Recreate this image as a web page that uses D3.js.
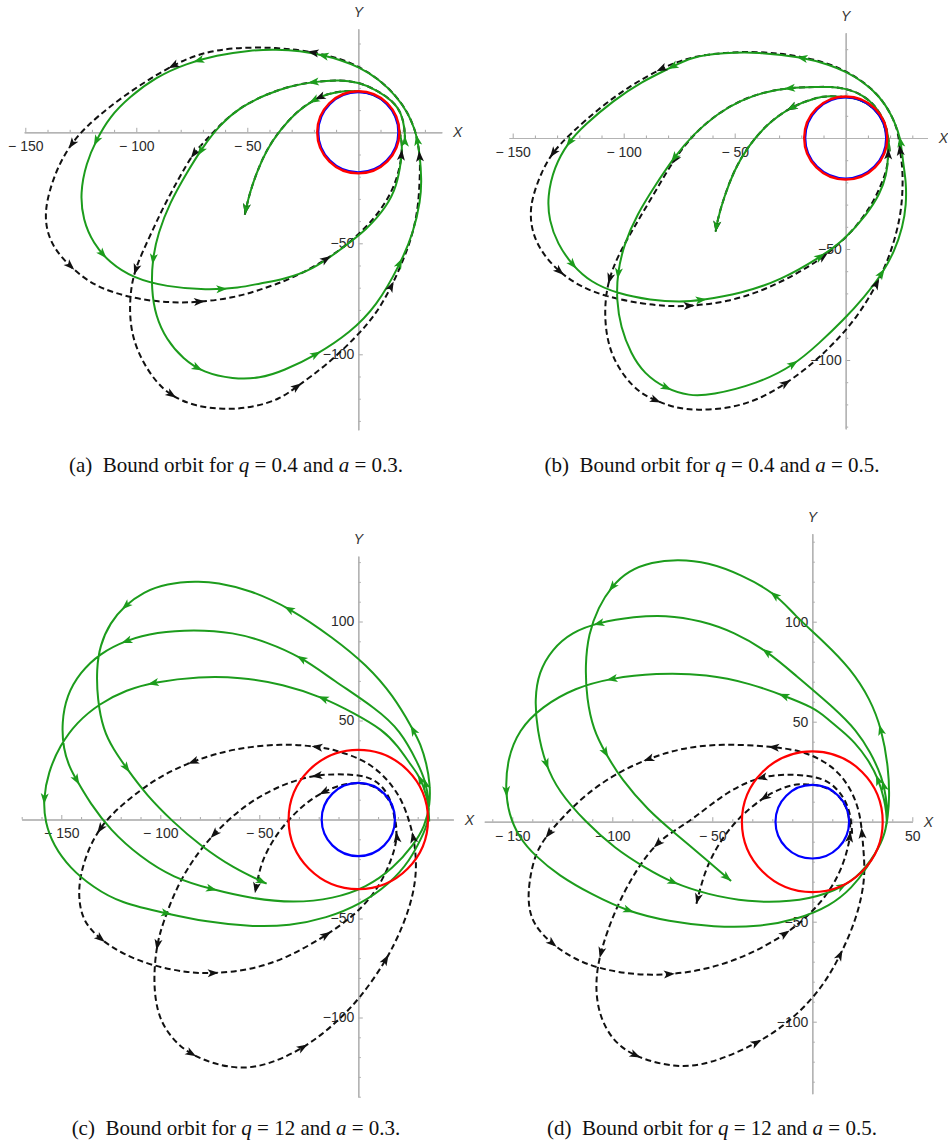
<!DOCTYPE html>
<html><head><meta charset="utf-8">
<script src="https://cdn.jsdelivr.net/npm/d3@7"></script>
<style>
body{margin:0;background:#fff;}
svg{display:block;}
</style></head><body>
<svg id="chart" width="948" height="1147"></svg>
<script>
// ---------------- DATA ----------------
// Panel (a) q = 0.4, a = 0.3
const greenA = [[21,-4],[21,1.1],[19.5,8.6],[15.8,13.9],[8.3,19.1],[0,22.6],[-8.2,23.6],[-20.3,22.8],[-30.8,20.8],[-41.4,17.2],[-53.4,11.2],[-62.4,3.3],[-69.9,-6.4],[-77.4,-18.4],[-85,-31.9],[-90.2,-45.4],[-92.8,-57.3],[-93.2,-70.8],[-91.3,-82.8],[-86.5,-93.3],[-78.9,-102.2],[-69.9,-108.2],[-56.4,-111.2],[-44.4,-110.9],[-33.8,-107.5],[-18.7,-100.2],[-3.8,-90.3],[8.3,-78.3],[18.8,-59.5],[24.8,-45.4],[28.1,-30.4],[28.5,-21.4],[27.8,-10.9],[26.6,-3.4],[25.5,1.1],[22.5,8.6],[17.3,16.1],[9.8,23.6],[0,29.6],[-8.2,32.6],[-15.8,34.7],[-26.3,36.7],[-36.8,37.3],[-48.9,37],[-63.9,34.7],[-77.4,31],[-91,25],[-103,16],[-112,7],[-118,-3.4],[-122.6,-13.9],[-125.3,-27.4],[-124,-39.4],[-119.5,-49.9],[-112,-58.8],[-101.5,-65.6],[-86.5,-69.6],[-68.4,-71.1],[-53.4,-70.1],[-44.3,-68],[-33.8,-66.3],[-20.3,-61.8],[-8.2,-52.9],[3.8,-43.9],[12.8,-33.4],[17.3,-24.4],[19.5,-12],[19.8,-5],[18.6,0],[17.5,6.4],[14.2,12],[9.3,16.1],[3.2,18.3],[-1.6,18.5],[-6.8,18.7],[-14.3,17.2],[-20.3,14.5],[-27.8,9.3],[-35.3,1],[-41.4,-7.9],[-45.9,-18.4],[-48.9,-27.4],[-50.7,-34.9],[-51.1,-37.1]];
const dashA = [[21,-4],[21,1.1],[19.5,8.6],[15.8,13.9],[8.3,19.1],[0,22.6],[-8.2,23.6],[-20.3,22.8],[-30.8,20.8],[-41.4,17.2],[-53.4,11.2],[-62.4,3.3],[-68.5,-3.5],[-74.4,-9.4],[-81,-21],[-88,-34],[-94,-47],[-100.8,-61.8],[-102.7,-72.3],[-103,-82.8],[-101.5,-93.3],[-97,-103.7],[-91,-112.7],[-84.2,-118.7],[-74.4,-123.2],[-60.9,-125],[-47.4,-124],[-35.3,-120.2],[-27.7,-114.6],[-14.2,-104.8],[-0.7,-92],[8.3,-81.5],[15,-69.5],[20.3,-57.5],[24.5,-46],[27.1,-33.4],[27.8,-18.4],[27.8,-10.9],[26.6,-3.4],[25.5,1.1],[22.5,8.6],[17.3,16.1],[9.8,23.6],[0,29.8],[-8.2,33.2],[-20.3,36.2],[-36.8,38.3],[-56.4,38.2],[-71.4,35.6],[-83.5,30.3],[-98.5,21.3],[-112,11.6],[-121.8,3.3],[-129.3,-4.9],[-135.3,-15.4],[-139,-25.9],[-141,-34.9],[-140.6,-43.9],[-136.8,-52.8],[-130,-60.3],[-121,-67.8],[-110.5,-72.3],[-97,-75.6],[-83.5,-76.8],[-71.4,-76.5],[-56.4,-74.6],[-44.3,-71],[-30,-66],[-14.2,-57.4],[-2.3,-48.4],[8.3,-37.9],[15.8,-25.9],[18.8,-15.4],[19.5,-10.1],[19.8,-5],[18.6,0],[17.5,6.4],[14.2,12],[9.3,16.1],[3.2,18.3],[-1.6,18.5],[-6.8,18.7],[-14.3,17.2],[-20.3,14.5],[-27.8,9.3],[-35.3,1],[-41.4,-7.9],[-45.9,-18.4],[-48.9,-27.4],[-50.7,-34.9],[-51.1,-37.1]];
const greenArrowsA = [[-15.8,34.7],[-71.4,31],[-117.3,-4.2],[-114.3,-54.3],[-61.7,-70.8],[-20.3,22.8],[-70.7,-8.7],[-92.8,-57.3],[-72.9,-106.7],[-18.8,-100.4],[18.8,-58.8],[26.6,-3.4],[20.8,-5],[-20.3,14.5],[-51.1,-37.1]];
const dashArrowsA = [[-20.3,36.2],[-83.5,30.3],[-129.3,-4.9],[-130,-60.3],[-71.4,-76.5],[-14.2,-57.4],[19.5,-10.1],[27.8,-10.9],[15,-69.5],[-27.7,-114.6],[-84.2,-118.7],[-100.8,-61.8],[-74.4,-9.4],[-17.3,15.3],[-51.1,-37.1]];
const xTicksA = [-150,-100,-50], yTicksA = [-50,-100];

// Panel (b) q = 0.4, a = 0.5
const greenB = [[19.8,-6],[19.1,1.4],[17.6,7.3],[13.8,14.1],[7.9,19.4],[0,22.4],[-7.1,23.1],[-12.8,23],[-25.5,22.7],[-36.8,20.7],[-47.3,17],[-57.8,11],[-68.3,2],[-77.3,-8.6],[-86.3,-22.1],[-93.8,-34.1],[-99.8,-47.6],[-102.9,-61.1],[-103.2,-73.1],[-101.4,-85.1],[-96.8,-97.1],[-90.8,-106.2],[-81.1,-112.9],[-70.5,-116.2],[-60.8,-115.9],[-39.8,-110.7],[-23.3,-102.4],[-12,-92.5],[-1,-82],[8.5,-71.5],[16.5,-61.1],[22,-51],[25.7,-40],[27.3,-30],[27.2,-20],[26.2,-13.6],[24.8,-1.7],[23.7,2.8],[20.7,10.4],[15.5,18.6],[7.9,25.4],[0,29.9],[-7.1,32.9],[-19.5,36.5],[-39.8,38.7],[-54.8,38.4],[-69.8,36.5],[-78.1,32],[-92.3,25.2],[-104.4,17],[-117.9,5.7],[-124.9,-1.8],[-131.4,-13.1],[-134.4,-26.6],[-133.6,-37.1],[-129.9,-47.6],[-123.1,-57.4],[-114.9,-64.9],[-102.9,-70.1],[-87.8,-73.1],[-74.3,-73.9],[-65.3,-73.1],[-47.3,-70.1],[-29.3,-64.1],[-11.3,-53.6],[-0.8,-46.1],[9.8,-34.1],[15.5,-25],[18.4,-16.7],[19.3,-8],[18.6,0],[17.5,6.4],[14.2,12],[9.3,16.1],[3.2,18.3],[-1.6,18.5],[-7.1,18.9],[-12.8,18.5],[-24.8,14],[-35.3,6.5],[-44.3,-4.1],[-50.3,-14.6],[-54.8,-26.6],[-57.8,-37.1],[-58.6,-42.3]];
const dashB = [[19.8,-6],[19.1,1.4],[17.6,7.3],[13.8,14.1],[7.9,19.4],[0,22.4],[-7.1,23.1],[-12.8,23],[-25.5,22.7],[-36.8,20.7],[-47.3,17],[-57.8,11],[-68.3,2],[-77.3,-9.5],[-86.3,-25.1],[-95.3,-40.1],[-102.9,-53.6],[-106.6,-63.4],[-108.4,-73.1],[-108.4,-85.1],[-105.9,-97.1],[-99.8,-107.7],[-92.3,-115.2],[-85.6,-118.2],[-77.3,-121.5],[-66.8,-122.7],[-53.3,-121.9],[-39.8,-118.2],[-27,-110.7],[-15.8,-102.4],[-5.3,-92.6],[5.3,-80.6],[14.3,-65.6],[20.3,-52.1],[24.8,-35.6],[25.8,-22],[25.5,-12],[24.4,-5.4],[23.7,2.8],[20.7,10.4],[15.5,18.6],[7.9,25.4],[0,30.2],[-7.1,33.3],[-19.5,36.8],[-39.8,39.3],[-62.3,38],[-74.3,35],[-83.3,31.2],[-96.8,23.7],[-110.4,14],[-123.9,2],[-132.1,-6.3],[-137.4,-16.1],[-141.1,-26.6],[-142.2,-34.1],[-141.1,-43.1],[-136.6,-52.1],[-129.1,-60.4],[-119.4,-67.1],[-107.4,-71.6],[-92.3,-74.6],[-80.3,-75.8],[-70.6,-75.8],[-53.3,-73.9],[-36.8,-68.6],[-21.8,-61.1],[-9.8,-53.6],[2.3,-43.1],[11.3,-31.1],[15.5,-22.1],[18.4,-15],[19.5,-7],[18.6,0],[17.5,6.4],[14.2,12],[9.3,16.1],[3.2,18.3],[-1.6,18.5],[-7.1,18.9],[-12.8,18.5],[-24.8,14],[-35.3,6.5],[-44.3,-4.1],[-50.3,-14.6],[-54.8,-26.6],[-57.8,-37.1],[-58.6,-42.3]];
const greenArrowsB = [[-19.5,36.5],[-78.1,32],[-124.9,-1.8],[-123.1,-57.4],[-65.3,-73.1],[-11.3,-53.6],[-25.5,22.7],[-77.3,-8.6],[-102.9,-61.1],[-81.1,-112.9],[-23.3,-102.4],[16.5,-61.1],[24.8,-1.7],[-24.8,14],[-58.6,-42.3]];
const dashArrowsB = [[-83.3,31.2],[-132.1,-6.3],[-129.1,-60.4],[-70.6,-75.8],[-9.8,-53.6],[19.5,-7],[24.4,-5.4],[14.3,-65.6],[-27,-110.7],[-85.6,-118.2],[-106.6,-63.4],[-77.3,-9.5],[-24,13.2],[-58.6,-42.3]];
const xTicksB = [-150,-100,-50], yTicksB = [-50,-100];

// Panel (c) q = 12, a = 0.3
const greenC = [[35.8,-1],[35.5,8],[33,17],[30,23],[26.1,28.2],[20,37],[12.6,45.2],[-2.5,53.9],[-17.7,61.6],[-37.9,68.4],[-59.8,71.9],[-80,72.3],[-103.5,69.4],[-117,65.5],[-130.5,58.7],[-142.3,49],[-150.7,37.4],[-156.6,23.8],[-159.1,10.3],[-158.2,-1.4],[-154,-13],[-145.6,-24.6],[-133.8,-34.3],[-120.4,-42.1],[-96.8,-47.5],[-76.6,-51.7],[-54.7,-54.1],[-34.5,-53.7],[-16,-49.8],[0.8,-43],[16,-32.4],[26.1,-20.7],[32,-9.1],[35.6,-1],[35.8,9],[34,19],[30.3,28.2],[21.1,45.2],[9.3,55.8],[-12.6,70.3],[-28.6,82],[-46.3,89.7],[-63.1,94.6],[-83.3,95.9],[-101.9,94.6],[-117,90.7],[-130.5,83.9],[-140.6,74.2],[-147.3,62.6],[-149.8,49],[-149,35.5],[-145.6,25.8],[-142.3,20],[-135.5,8.3],[-125.4,-5.2],[-110.3,-18.8],[-93.4,-29.5],[-74.1,-35.3],[-53,-40.1],[-32.8,-42.1],[-12.6,-40.1],[4.2,-34.3],[17.7,-24.6],[27.8,-13],[33.7,-3.3],[36.3,8],[36.2,18],[34.5,28.2],[31.5,38],[27.8,45.2],[17.7,62.6],[4.2,78.1],[-12.6,91.7],[-34.5,106.8],[-54.7,115.9],[-71.5,119.8],[-81.6,120.3],[-96.8,119.2],[-108.6,114.9],[-117.8,108.1],[-125.4,99.4],[-130.5,87.8],[-132.2,76.2],[-131.8,60.7],[-128.8,45.2],[-123.7,35.5],[-117,25.8],[-106.9,12.2],[-93.4,-1.4],[-80,-13],[-63.1,-24.6],[-46.3,-32.4]];
const dashC = [[19.5,-9],[18.5,-0.3],[16.9,9],[12.6,16.6],[5.9,21.5],[-4.2,22.9],[-21,22.9],[-37.9,18],[-56.4,8.3],[-73.2,-7.2],[-83.3,-19.8],[-91.8,-34.3],[-98.5,-51.7],[-101.9,-63.4],[-103.5,-80.8],[-101.9,-96.3],[-96.8,-107.9],[-85,-119.6],[-63.1,-126.4],[-46.3,-124.4],[-27.8,-115.7],[-12.6,-104.1],[0.8,-90.5],[14.3,-71.1],[22.7,-53.7],[27.8,-38.2],[29.5,-24.6],[28.6,-14],[27.8,-9.1],[26.1,-1.9],[22.7,8.2],[17.7,16.5],[11,24],[2,30.5],[-12.6,35.4],[-21,36.8],[-37.9,38.4],[-63.1,35.9],[-83.3,29.7],[-100.2,21.9],[-113.6,12.2],[-123.7,3.5],[-130.5,-4.3],[-136.4,-14.9],[-140.6,-28.5],[-141.4,-40.1],[-138.9,-51.7],[-130.5,-60.5],[-118.7,-68.2],[-103.5,-74],[-86.7,-77.3],[-73.2,-77.9],[-54.7,-76],[-36.4,-70.2],[-16,-58.5],[-2.5,-48.8],[7.6,-38.2],[14.3,-26.6],[18.5,-14.9],[19.4,-9.1],[19.2,-3],[18.6,0],[17.5,6.4],[14.2,12],[9.3,16.1],[3.2,18.3],[-1.6,18.5],[-9,17.5],[-17.7,14.1],[-27,8],[-34.5,0.6],[-40,-6],[-44.6,-13],[-48.5,-21],[-50.5,-28.5],[-52.2,-37.2]];
const greenArrowsC = [[31.5,20],[-17.7,61.6],[-103.5,69.4],[-159.1,10.3],[-96.8,-47.5],[34.5,18],[-28.6,82],[-117,90.7],[-142.3,20],[-74.1,-35.3],[27.8,45.2],[-34.5,106.8],[-117.8,108.1],[-117,25.8],[-46.3,-32.4]];
const dashArrowsC = [[-21,36.8],[-83.3,29.7],[-130.5,-4.3],[-130.5,-60.5],[-73.2,-77.9],[-16,-58.5],[19.4,-9.1],[27.8,-9.1],[14.3,-71.1],[-27.8,-115.7],[-85,-119.6],[-101.9,-63.4],[-73.2,-7.2],[-21,22.9],[-17.7,14.1],[-52.2,-37.2]];
const xTicksC = [-150,-100,-50], yTicksC = [100,50,-50,-100];

// Panel (d) q = 12, a = 0.5
const greenD = [[37.3,-1],[37,5],[36,11],[33.2,21.1],[28,31],[21,40],[14.6,45.6],[7,52],[0.8,57],[-14.1,63],[-30.7,69],[-52.2,73.8],[-78.8,74.3],[-100.3,71.8],[-118.6,67],[-135.2,57.5],[-146.8,46],[-152.6,30.7],[-153.4,15.3],[-151.7,3.8],[-146.8,-7.7],[-138.5,-17.2],[-126.9,-26.8],[-110.3,-36.4],[-92,-45],[-72.1,-49.8],[-48.9,-52.7],[-27.4,-52.7],[-7.5,-48.9],[9.1,-42.1],[20,-33],[27.4,-23],[34,-11.5],[37,-3.8],[37.5,4],[37,12],[35,22],[29,35],[22.1,45.6],[12,56],[-9.1,73.8],[-22.4,85.2],[-39,94.8],[-55.6,100.6],[-73.8,103.4],[-88.7,102.5],[-107,99.6],[-120.2,94.8],[-130.2,86.2],[-136.8,74.7],[-138.8,61.3],[-137.6,46],[-133.5,28.7],[-126.9,15.3],[-113.6,0],[-98.7,-13.4],[-83.7,-23],[-69.7,-30.7],[-52.2,-36.4],[-32.3,-40.2],[-10.8,-40.2],[7.5,-36.4],[22.4,-28.7],[32.3,-15.3],[36.5,-5.7],[37.8,3],[38.6,12],[38.1,26.8],[34.8,46],[29,61.3],[19.1,76.6],[5.8,90],[-9.1,103.4],[-18.2,114],[-35.7,123.6],[-52.2,129.7],[-67.2,131.2],[-80.4,129.9],[-92,125.5],[-100.3,117.8],[-107,107.3],[-111.9,93.9],[-113.6,78.5],[-112.8,61.3],[-109.5,46],[-103.6,34.5],[-95.4,21.1],[-82.1,5.7],[-68.8,-5.7],[-53.9,-18.2],[-40.6,-29.7]];
const dashD = [[19.9,-6],[19.5,1],[17.5,9],[13,16],[5.8,22],[-9.1,23.9],[-25.7,23],[-42.3,15.3],[-58.9,1.9],[-69,-4.5],[-77.9,-10.5],[-88.7,-24.9],[-98.7,-44.1],[-106.1,-65.1],[-108.6,-80.5],[-107,-95.8],[-100.3,-109.2],[-88.7,-117.8],[-68.8,-123],[-52.2,-121.6],[-27.4,-111.1],[-10.8,-99.6],[4.1,-84.3],[14.1,-67],[22.4,-47.9],[26.5,-28.7],[25.7,-15.3],[24.9,-5.7],[23.8,4],[20.5,14],[14.1,24],[5,31],[-6,35.5],[-19.1,37.5],[-45.6,39.1],[-65.5,36.8],[-82.1,31.6],[-98.7,23.9],[-113.6,13.4],[-125.2,1.9],[-132,-6],[-138.5,-15.3],[-141.8,-30.7],[-142.1,-42.1],[-139.3,-51.7],[-130.2,-61.3],[-118.6,-69],[-105.3,-73.8],[-88.7,-76.6],[-71.3,-76.6],[-52.2,-73.8],[-32.3,-67],[-13.3,-56.5],[-0.8,-46],[9.1,-34.5],[15.8,-21.1],[19.1,-7.7],[19,-2],[18.6,0],[17.5,6.4],[14.2,12],[9.3,16.1],[3.2,18.3],[-1.6,18.5],[-7.5,19.2],[-16,16.5],[-24,12.5],[-37.3,1.9],[-47.3,-11.5],[-53.9,-24.9],[-58,-41.2]];
const greenArrowsD = [[33.2,21.1],[-14.1,63],[-100.3,71.8],[-153.4,15.3],[-92,-45],[14.9,-32],[36,18],[-22.4,85.2],[-107,99.6],[-133.5,28.7],[-69.7,-30.7],[34.8,46],[-18.2,114],[-100.3,117.8],[-103.6,34.5],[-40.6,-29.7]];
const dashArrowsD = [[-19.1,37.5],[-82.1,31.6],[-132,-6],[-130.2,-61.3],[-71.3,-76.6],[-13.3,-56.5],[19.1,-7.7],[24.9,-5.7],[14.1,-67],[-27.4,-111.1],[-88.7,-117.8],[-106.1,-65.1],[-77.9,-10.5],[-25.7,23],[-24,12.5],[-58,-41.2]];
const xTicksD = [-150,-100,-50,50], yTicksD = [100,50,-50,-100];

// circle radii [red, blue]
const circlesA = [18.5, 17.9], circlesB = [18.7, 18.1], circlesC = [35.2, 18.5], circlesD = [35.2, 18.4];

const captions = [
  {tag:"(a)", q:"0.4", a:"0.3"}, {tag:"(b)", q:"0.4", a:"0.5"},
  {tag:"(c)", q:"12", a:"0.3"},  {tag:"(d)", q:"12", a:"0.5"}
];

// ---------------- LAYOUT ----------------
const panels = [
  {ox:358.3, oy:132.3, k:2.22, xr:[-150.5,37.6], yr:[-134,46.6], xt:xTicksA, yt:yTicksA, green:greenA, dash:dashA, ga:greenArrowsA, da:dashArrowsA, circ:circlesA, redW:2.4, blueW:1.6, cx:236, cy:472},
  {ox:845.7, oy:138,   k:2.22, xr:[-151.6,36.8], yr:[-131,47.4], xt:xTicksB, yt:yTicksB, green:greenB, dash:dashB, ga:greenArrowsB, da:dashArrowsB, circ:circlesB, redW:2.4, blueW:1.6, cx:712, cy:472},
  {ox:358.3, oy:819.5, k:1.98, xr:[-170,48],     yr:[-140,133],  xt:xTicksC, yt:yTicksC, green:greenC, dash:dashC, ga:greenArrowsC, da:dashArrowsC, circ:circlesC, redW:2.2, blueW:2.2, cx:236, cy:1135},
  {ox:812.3, oy:821.7, k:2.0,  xr:[-164,50],     yr:[-136,144],  xt:xTicksD, yt:yTicksD, green:greenD, dash:dashD, ga:greenArrowsD, da:dashArrowsD, circ:circlesD, redW:2.2, blueW:2.2, cx:712, cy:1135}
];

const GREEN = "#1c9c1c", RED = "#ff0000", BLUE = "#0000ff", AXIS = "#b3b3b3", LABEL = "#2b2b2b";
const svg = d3.select("#chart");
const fmtX = d => d < 0 ? "\u2212 " + (-d) : String(d);
const fmtY = d => d < 0 ? "\u2212" + (-d) : String(d);

function addArrows(g, node, pts, color, x, y) {
  const L = node.getTotalLength();
  const samples = [];
  for (let l = 0; l <= L; l += 1) { const q = node.getPointAtLength(l); samples.push([l, q.x, q.y]); }
  pts.forEach(pt => {
    const px = x(pt[0]), py = y(pt[1]);
    let best = samples[0], bd = Infinity;
    for (const s of samples) { const d = (s[1]-px)**2 + (s[2]-py)**2; if (d < bd) { bd = d; best = s; } }
    const l = best[0];
    const isEnd = l > L - 6;
    const at = isEnd ? L : l;
    const a = node.getPointAtLength(Math.max(0, at - 3));
    const b = node.getPointAtLength(Math.min(L, at + 3));
    const ang = Math.atan2(b.y - a.y, b.x - a.x) * 180 / Math.PI;
    const c = node.getPointAtLength(at);
    const shape = isEnd ? "M0,0 L-11,-4 L-8,0 L-11,4 Z" : "M5.5,0 L-5.5,-4 L-2.8,0 L-5.5,4 Z";
    g.append("path").attr("d", shape).attr("fill", color)
      .attr("transform", `translate(${c.x},${c.y}) rotate(${ang})`);
  });
}

panels.forEach((p, i) => {
  const x = d3.scaleLinear().domain(p.xr).range([p.ox + p.k*p.xr[0], p.ox + p.k*p.xr[1]]);
  const y = d3.scaleLinear().domain(p.yr).range([p.oy - p.k*p.yr[0], p.oy - p.k*p.yr[1]]);
  const g = svg.append("g");

  const minorX = d3.range(Math.ceil(p.xr[0]/10)*10, p.xr[1] + 0.01, 10).filter(v => v !== 0 && v % 50 !== 0);
  const minorY = d3.range(Math.ceil(p.yr[0]/10)*10, p.yr[1] + 0.01, 10).filter(v => v !== 0 && v % 50 !== 0);
  const majorXt = d3.range(Math.ceil(p.xr[0]/50)*50, p.xr[1] + 0.01, 50).filter(v => v !== 0);
  const majorYt = d3.range(Math.ceil(p.yr[0]/50)*50, p.yr[1] + 0.01, 50).filter(v => v !== 0);

  // X axis
  const gx = g.append("g").attr("transform", `translate(0,${y(0)})`);
  gx.append("g").call(d3.axisBottom(x).tickValues(minorX).tickSizeInner(-2.5).tickSizeOuter(0).tickFormat(""));
  gx.append("g").call(d3.axisBottom(x).tickValues(majorXt).tickSizeInner(-4.5).tickSizeOuter(0).tickFormat(""));
  gx.append("g").call(d3.axisBottom(x).tickValues(p.xt).tickSize(0).tickPadding(9).tickFormat(fmtX));
  // Y axis
  const gy = g.append("g").attr("transform", `translate(${x(0)},0)`);
  gy.append("g").call(d3.axisLeft(y).tickValues(minorY).tickSizeInner(-2.5).tickSizeOuter(0).tickFormat(""));
  gy.append("g").call(d3.axisLeft(y).tickValues(majorYt).tickSizeInner(-4.5).tickSizeOuter(0).tickFormat(""));
  gy.append("g").call(d3.axisLeft(y).tickValues(p.yt).tickSize(0).tickPadding(4).tickFormat(fmtY));

  g.selectAll(".domain").attr("stroke", AXIS).attr("stroke-width", 1);
  g.selectAll(".tick line").attr("stroke", "#a8a8a8").attr("stroke-width", 1);
  g.selectAll(".tick text").attr("fill", LABEL).attr("font-family", "'Liberation Sans', Arial, sans-serif").attr("font-size", 14);

  // axis names
  g.append("text").attr("x", x(p.xr[1]) + 16).attr("y", y(0) + 5).attr("text-anchor", "middle")
    .attr("font-family", "'Liberation Sans', Arial, sans-serif").attr("font-style", "italic").attr("font-size", 14).attr("fill", "#333").text("X");
  g.append("text").attr("x", x(0)).attr("y", y(p.yr[1]) - 12).attr("text-anchor", "middle")
    .attr("font-family", "'Liberation Sans', Arial, sans-serif").attr("font-style", "italic").attr("font-size", 14).attr("fill", "#333").text("Y");

  const line = d3.line().x(d => x(d[0])).y(d => y(d[1])).curve(d3.curveBasis);

  // dashed orbit
  const dpath = g.append("path").attr("d", line(p.dash)).attr("fill", "none")
    .attr("stroke", "#111").attr("stroke-width", 2).attr("stroke-dasharray", "6,3.5");
  // green orbit
  const gpath = g.append("path").attr("d", line(p.green)).attr("fill", "none")
    .attr("stroke", GREEN).attr("stroke-width", 2);

  addArrows(g, dpath.node(), p.da, "#111", x, y);
  addArrows(g, gpath.node(), p.ga, GREEN, x, y);

  // circles
  g.append("circle").attr("cx", x(0)).attr("cy", y(0)).attr("r", x(p.circ[1]) - x(0))
    .attr("fill", "none").attr("stroke", BLUE).attr("stroke-width", p.blueW);
  g.append("circle").attr("cx", x(0)).attr("cy", y(0)).attr("r", x(p.circ[0]) - x(0))
    .attr("fill", "none").attr("stroke", RED).attr("stroke-width", p.redW);

  // caption
  const c = captions[i];
  const t = svg.append("text").attr("x", p.cx).attr("y", p.cy).attr("text-anchor", "middle")
    .attr("font-family", "'Liberation Serif', 'Times New Roman', serif").attr("font-size", 21).attr("fill", "#111");
  t.append("tspan").text(c.tag + "\u2002Bound orbit for ");
  t.append("tspan").attr("font-style", "italic").text("q");
  t.append("tspan").text(" = " + c.q + " and ");
  t.append("tspan").attr("font-style", "italic").text("a");
  t.append("tspan").text(" = " + c.a + ".");
});
</script></body></html>
